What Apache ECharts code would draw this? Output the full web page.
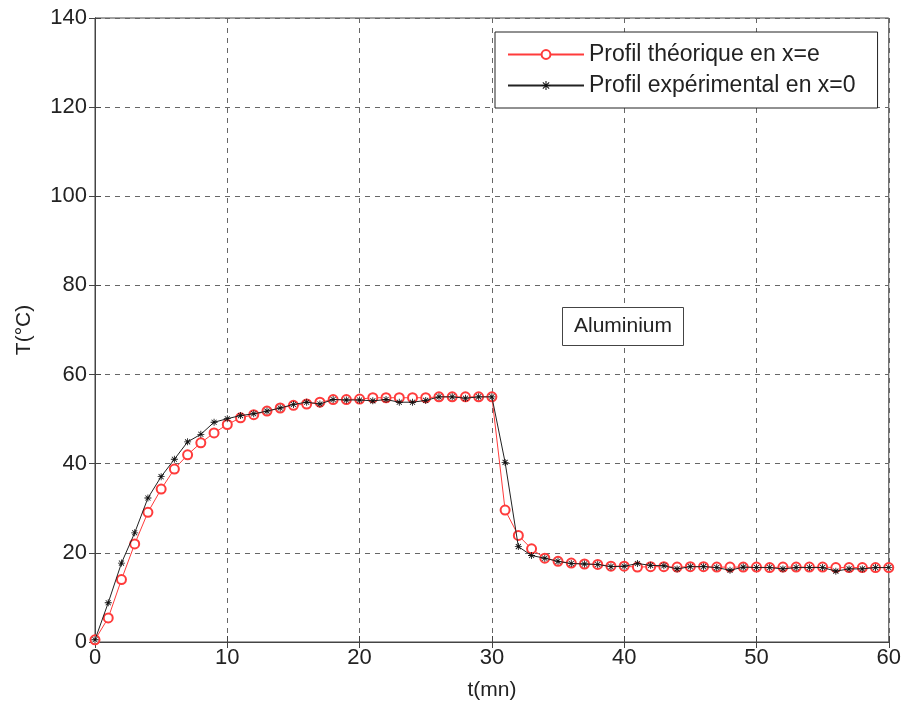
<!DOCTYPE html>
<html>
<head>
<meta charset="utf-8">
<script src="https://cdn.jsdelivr.net/npm/echarts@6/dist/echarts.min.js"></script>
<style>
html, body { margin: 0; padding: 0; background: #fff; }
#chart { width: 904px; height: 706px; }
</style>
</head>
<body>
<div id="chart"></div>
<script>
// temps en minutes
var minutes = [0, 1, 2, 3, 4, 5, 6, 7, 8, 9, 10, 11, 12, 13, 14, 15, 16, 17, 18, 19, 20,
	21, 22, 23, 24, 25, 26, 27, 28, 29, 30, 31, 32, 33, 34, 35, 36, 37, 38, 39, 40,
	41, 42, 43, 44, 45, 46, 47, 48, 49, 50, 51, 52, 53, 54, 55, 56, 57, 58, 59, 60];
// profil theorique en x=e
var theorique = [0.5, 5.4, 14.0, 22.0, 29.1, 34.3, 38.8, 42.0, 44.7, 46.9, 48.8,
	50.3, 51.0, 51.8, 52.5, 53.1, 53.4, 53.8, 54.4, 54.4, 54.5,
	54.8, 54.8, 54.8, 54.8, 54.8, 55.0, 55.0, 55.0, 55.0, 55.0,
	29.6, 23.9, 20.9, 18.8, 18.1, 17.7, 17.5, 17.4, 17.0, 17.0,
	16.8, 16.9, 16.9, 16.8, 16.9, 16.9, 16.8, 16.8, 16.8, 16.8,
	16.7, 16.8, 16.8, 16.8, 16.8, 16.7, 16.7, 16.7, 16.7, 16.7];
// profil experimental en x=0
var experimental = [0.5, 8.8, 17.7, 24.5, 32.3, 37.1, 41.0, 44.9, 46.6, 49.3, 50.1,
	50.8, 51.2, 51.8, 52.5, 53.3, 53.8, 53.4, 54.4, 54.3, 54.3,
	54.1, 54.4, 53.8, 53.8, 54.2, 55.0, 55.0, 54.7, 55.0, 55.0,
	40.3, 21.4, 19.4, 18.8, 18.1, 17.6, 17.5, 17.4, 16.9, 17.0,
	17.6, 17.2, 17.1, 16.4, 16.9, 16.9, 16.7, 16.1, 16.8, 16.7,
	16.7, 16.4, 16.7, 16.7, 16.7, 15.9, 16.4, 16.4, 16.7, 16.7];
var xTicks = { min: 0, max: 60, step: 10 };
var yTicks = { min: 0, max: 140, step: 20 };

var FONT = '"Liberation Sans", Arial, sans-serif';
// asterisque facon matlab
var STAR = 'path://M4.4 0L5.6 0L5.6 10L4.4 10Z M0 4.4L10 4.4L10 5.6L0 5.6Z M1 1.8L1.8 1L9 8.2L8.2 9Z M8.2 1L9 1.8L1.8 9L1 8.2Z';

function pairs(ys) {
	return minutes.map(function(t, i) { return [t, ys[i]]; });
}

var dash = { show: true, lineStyle: { color: '#666', type: [5, 5], width: 1 } };

var option = {
	animation: false,
	backgroundColor: '#fff',
	grid: {
		left: 95, right: 14, top: 18, bottom: 64,
		show: true, borderColor: '#444', borderWidth: 1
	},
	legend: {
		orient: 'vertical',
		left: 495, top: 32,
		backgroundColor: '#fff',
		borderColor: '#222', borderWidth: 1,
		borderRadius: 0,
		padding: [11, 22, 11, 12],
		itemGap: 8,
		itemWidth: 76, itemHeight: 11,
		textStyle: { fontFamily: FONT, fontSize: 23, color: '#222' },
		data: ['Profil théorique en x=e', 'Profil expérimental en x=0']
	},
	title: {
		text: 'Aluminium',
		left: 562, top: 307,
		padding: [9, 12, 9, 12],
		borderColor: '#444', borderWidth: 1,
		backgroundColor: '#fff',
		textStyle: { fontFamily: FONT, fontSize: 21, fontWeight: 'normal', color: '#222' }
	},
	xAxis: [{
		type: 'value',
		min: xTicks.min, max: xTicks.max, interval: xTicks.step,
		name: 't(mn)', nameLocation: 'middle', nameGap: 38,
		nameTextStyle: { fontFamily: FONT, fontSize: 21, color: '#222' },
		axisLine: { show: true, lineStyle: { color: '#444' } },
		axisTick: { show: true, inside: true, length: 6, lineStyle: { color: '#444' } },
		axisLabel: { fontFamily: FONT, fontSize: 22, color: '#222', margin: 5 },
		splitLine: dash
	}, {
		type: 'value', position: 'top',
		min: xTicks.min, max: xTicks.max, interval: xTicks.step,
		axisLine: { show: true, lineStyle: { color: '#444' } },
		axisTick: { show: true, inside: true, length: 6, lineStyle: { color: '#444' } },
		axisLabel: { show: false },
		splitLine: { show: false }
	}],
	yAxis: [{
		type: 'value',
		min: yTicks.min, max: yTicks.max, interval: yTicks.step,
		name: 'T(°C)', nameLocation: 'middle', nameGap: 60, nameRotate: 90,
		nameTextStyle: { fontFamily: FONT, fontSize: 21, color: '#222' },
		axisLine: { show: true, lineStyle: { color: '#444' } },
		axisTick: { show: true, inside: true, length: 6, lineStyle: { color: '#444' } },
		axisLabel: { fontFamily: FONT, fontSize: 22, color: '#222', margin: 8 },
		splitLine: dash
	}, {
		type: 'value', position: 'right',
		min: yTicks.min, max: yTicks.max, interval: yTicks.step,
		axisLine: { show: true, lineStyle: { color: '#444' } },
		axisTick: { show: true, inside: true, length: 6, lineStyle: { color: '#444' } },
		axisLabel: { show: false },
		splitLine: { show: false }
	}],
	series: [{
		name: 'Profil théorique en x=e',
		type: 'line',
		data: pairs(theorique),
		symbol: 'emptyCircle',
		symbolSize: 9,
		lineStyle: { color: '#ff3b3b', width: 1 },
		itemStyle: { color: '#ff3b3b', borderWidth: 1 },
		z: 2
	}, {
		name: 'Profil expérimental en x=0',
		type: 'line',
		data: pairs(experimental),
		symbol: STAR,
		symbolSize: 7,
		lineStyle: { color: '#222', width: 1 },
		itemStyle: { color: '#111' },
		z: 3
	}]
};

var chart = echarts.init(document.getElementById('chart'));
chart.setOption(option);
</script>
</body>
</html>
